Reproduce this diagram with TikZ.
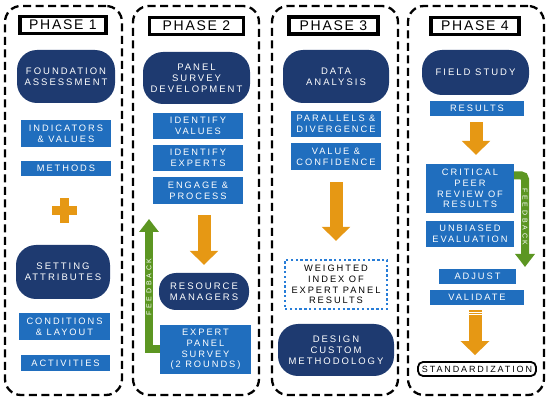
\documentclass[tikz,border=0pt]{standalone}
\usepackage{fontspec}
\setmainfont{Liberation Sans}
\newfontfamily\spacedfont{Liberation Sans}[LetterSpace=21]
\newfontfamily\phasefont{Liberation Sans}[LetterSpace=12]
\newfontfamily\fbfont{Liberation Sans}[LetterSpace=40]
\usetikzlibrary{arrows.meta}

\definecolor{navy}{RGB}{30,58,112}
\definecolor{itemblue}{RGB}{32,110,190}
\definecolor{arrorange}{RGB}{230,152,20}
\definecolor{fbgreen}{RGB}{92,150,34}
\definecolor{dotblue}{RGB}{40,125,215}

\begin{document}
\begin{tikzpicture}[
x=1pt, y=-1pt,
phasebox/.style={
        draw,
        line width=2.3pt,
        dash pattern=on 8pt off 4.5pt,
        rounded corners=16pt,
        minimum height=389pt,
        inner sep=0pt,
    },
   phasetitle/.style = {
   draw,
   line width = 3.5pt,
   minimum height=17pt,
   inner sep=0pt,
   font = \phasefont\fontsize{14}{16}\selectfont,
   },
   pill/.style = {
   fill=navy,
   rounded corners=20pt,
   text=white,
   align=center,
   inner sep=0pt,
   font = \spacedfont\fontsize{9.5}{11}\selectfont,
   },
   item/.style = {
   fill=itemblue,
   text=white,
   align=center,
   inner sep=0pt,
   minimum width=90pt,
   font = \spacedfont\fontsize{9.3}{10.8}\selectfont,
   },
   flow/.style = {
   arrorange,
   line width=13pt,
   -{Triangle[width=28pt,length=14pt]},
   },
   feedback/.style = {
   fbgreen,
   line width=8pt,
   -{Triangle[width=19pt,length=13pt]},
   },
   fblabel/.style = {
   text=white,
   inner sep=0pt,
   font = \fbfont\fontsize{7}{8}\selectfont,
   },
 ]
\useasboundingbox (0,0) rectangle (550,401);

% phase 1
\node[phasebox, minimum width=117pt] (phase1) at (63.5,200.5) {};
\node[phasetitle, minimum width=86pt] (title1) at (63,25) {PHASE 1};
\node[pill, minimum width=98pt, minimum height=53pt] (foundation) at (66,76.5) {FOUNDATION\\ASSESSMENT};
\node[item, minimum height=27pt] (indicators) at (66,133.5) {INDICATORS\\\& VALUES};
\node[item, minimum height=15pt] (methods) at (66,168.5) {METHODS};
\fill[arrorange] (52,206) rectangle (77,215);
\fill[arrorange] (60,198) rectangle (69,223);
\node[pill, minimum width=94pt, minimum height=54pt] (setting) at (63,272) {SETTING\\ATTRIBUTES};
\node[item, minimum width=91pt, minimum height=27pt] (conditions) at (64.5,326.5) {CONDITIONS\\\& LAYOUT};
\node[item, minimum width=89pt, minimum height=16pt] (activities) at (65.5,363) {ACTIVITIES};

% phase 2
\node[phasebox, minimum width=126pt] (phase2) at (196,200.5) {};
\node[phasetitle, minimum width=94pt] (title2) at (196.5,26) {PHASE 2};
\node[pill, minimum width=107pt, minimum height=52pt] (panel) at (196.5,78) {PANEL\\SURVEY\\DEVELOPMENT};
\node[item, minimum height=26pt] (idvalues) at (198,126) {IDENTIFY\\VALUES};
\node[item, minimum height=26pt] (idexperts) at (198,158) {IDENTIFY\\EXPERTS};
\node[item, minimum height=27pt] (engage) at (198,190.5) {ENGAGE \&\\PROCESS};
\node[pill, rounded corners=17pt, minimum width=90pt, minimum height=37pt] (resource) at (204,291.5) {RESOURCE\\MANAGERS};
\node[item, minimum width=91pt, minimum height=49pt] (survey) at (205.5,349.5) {EXPERT\\PANEL\\SURVEY\\(2 ROUNDS)};
\draw[flow, shorten <=11pt, shorten >=8pt] (engage.south -| resource.north) -- (resource.north);
\coordinate (fb2tip) at (149,219);
\draw[feedback] (survey.west) -| (fb2tip);
\node[fblabel, rotate=90] (fb2label) at (149,287) {FEEDBACK};

% phase 3
\node[phasebox, minimum width=126pt] (phase3) at (335,200.5) {};
\node[phasetitle, minimum width=89pt] (title3) at (333.5,25.5) {PHASE 3};
\node[pill, minimum width=106pt, minimum height=53pt] (analysis) at (336,76.5) {DATA\\ANALYSIS};
\node[item, minimum height=26pt] (parallels) at (336,124) {PARALLELS \&\\DIVERGENCE};
\node[item, minimum height=27pt] (confidence) at (336,156.5) {VALUE \&\\CONFIDENCE};
\node[draw=dotblue, line width=2.4pt, dash pattern=on 2.4pt off 2.4pt, minimum width=102pt, minimum height=49pt,
      align=center, inner sep=0pt, font=\spacedfont\fontsize{9.3}{10.8}\selectfont] (weighted) at (336,284.5) {WEIGHTED\\INDEX OF\\EXPERT PANEL\\RESULTS};
\node[pill, minimum width=116pt, minimum height=52pt] (design) at (336,350) {DESIGN\\CUSTOM\\METHODOLOGY};
\draw[flow, shorten <=12pt, shorten >=18pt] (confidence.south) -- (weighted.north);

% phase 4
\node[phasebox, minimum width=136pt] (phase4) at (476,200.5) {};
\node[phasetitle, minimum width=88pt] (title4) at (475,26) {PHASE 4};
\node[pill, minimum width=107pt, minimum height=45pt] (field) at (475.5,72.5) {FIELD STUDY};
\node[item, minimum width=94pt, minimum height=15pt] (results) at (477,108.5) {RESULTS};
\node[item, minimum width=88pt, minimum height=49pt] (critical) at (470,188.5) {CRITICAL\\PEER\\REVIEW OF\\RESULTS};
\node[item, minimum width=88pt, minimum height=26pt] (unbiased) at (470,234) {UNBIASED\\EVALUATION};
\node[item, minimum width=77pt, minimum height=15pt] (adjust) at (477.5,276.5) {ADJUST};
\node[item, minimum width=94pt, minimum height=15pt] (validate) at (477,297.5) {VALIDATE};
\node[draw, line width=1.8pt, rounded corners=5pt, minimum width=118pt, minimum height=14pt, inner sep=0pt,
      font=\spacedfont\fontsize{9}{10}\selectfont] (standard) at (477,369) {STANDARDIZATION};
\draw[flow, shorten <=6pt, shorten >=9pt] (results.south -| 476,0) -- (critical.north -| 476,0);
\coordinate (fb4start) at ([yshift=-11.5pt]critical.north east);
\coordinate (fb4tip) at (525,267);
\draw[feedback, rounded corners=4pt] (fb4start) -| (fb4tip);
\node[fblabel, rotate=-90] (fb4label) at (525,217) {FEEDBACK};
\draw[flow, shorten <=5pt, shorten >=6pt] (validate.south -| 475,0) -- (standard.north -| 475,0);
\draw[white, line width=0.8pt] (467,312) -- (483,312);
\draw[white, line width=0.8pt] (467,314.5) -- (483,314.5);
\end{tikzpicture}
\end{document}
